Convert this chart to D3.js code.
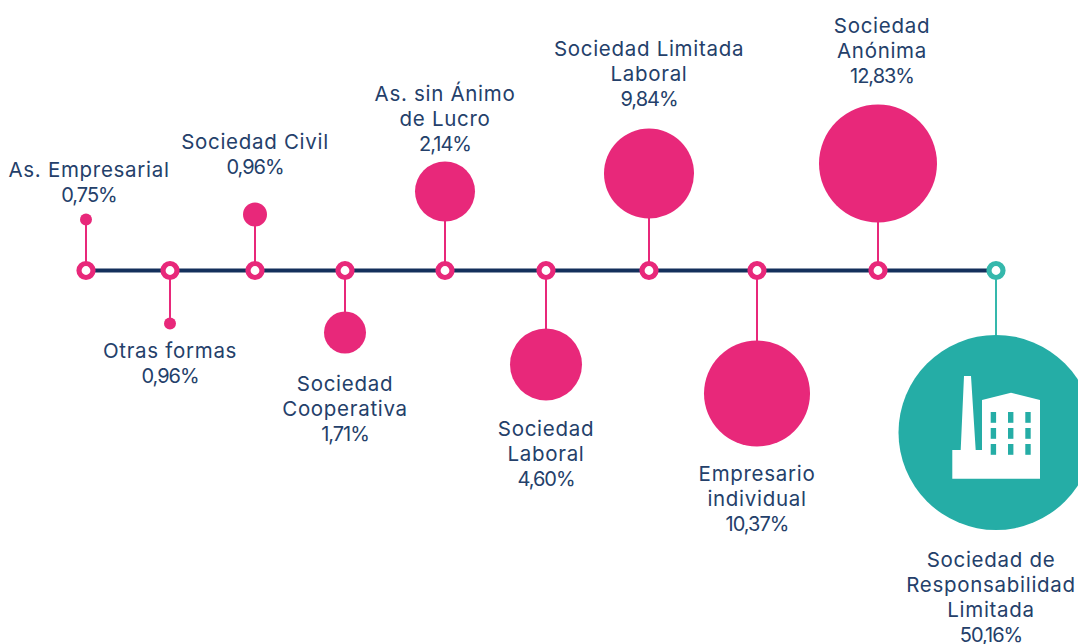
<!DOCTYPE html>
<html>
<head>
<meta charset="utf-8">
<script src="https://cdn.jsdelivr.net/npm/d3@7"></script>
<style>
html, body { margin: 0; padding: 0; background: #fff; overflow: hidden; }
text { font-family: "Inter", sans-serif; font-size: 20.5px; fill: #24406a; text-anchor: middle; letter-spacing: 0.7px; }
text .value { font-size: 20px; letter-spacing: -1px; }
</style>
</head>
<body>
<svg id="chart"></svg>
<script>
var width = 1078;
var height = 644;

var categories = ['As. Empresarial', 'Otras formas', 'Sociedad Civil', 'Sociedad Cooperativa', 'As. sin Ánimo de Lucro',
    'Sociedad Laboral', 'Sociedad Limitada Laboral', 'Empresario individual', 'Sociedad Anónima', 'Sociedad de Responsabilidad Limitada'];
var values = ['0,75%', '0,96%', '0,96%', '1,71%', '2,14%', '4,60%', '9,84%', '10,37%', '12,83%', '50,16%'];
var labelLines = [
    ['As. Empresarial'], ['Otras formas'], ['Sociedad Civil'], ['Sociedad', 'Cooperativa'], ['As. sin Ánimo', 'de Lucro'],
    ['Sociedad', 'Laboral'], ['Sociedad Limitada', 'Laboral'], ['Empresario', 'individual'], ['Sociedad', 'Anónima'],
    ['Sociedad de', 'Responsabilidad', 'Limitada']
];

var pink = '#e8287a';
var teal = '#25ada6';
var tealLight = '#35b8ac';
var navy = '#14305c';
var axisY = 270.5;

var x = d3.scaleOrdinal().domain(categories).range([86, 170, 255, 345, 445, 546, 649, 757, 878, 996]);
var r = d3.scaleOrdinal().domain(categories).range([6, 6, 12, 21, 30, 36, 45, 53, 59, 97.5]);
// offset of the bubble centre from the line, negative is above
var offset = d3.scaleOrdinal().domain(categories).range([-51, 53, -56, 62, -79, 94, -97, 123, -107, 162]);
// baseline of the first label line
var labelTop = d3.scaleOrdinal().domain(categories).range([177, 358, 149, 391, 101, 436, 56, 481, 33, 567]);
var labelX = d3.scaleOrdinal().domain(categories).range([89, 170, 255, 345, 445, 546, 649, 757, 882, 991]);

var color = function(d) { return d === categories[categories.length - 1] ? tealLight : pink; };

var svg = d3.select('#chart')
    .attr('width', width)
    .attr('height', height);

svg.append('line')
    .attr('x1', x(categories[0]))
    .attr('x2', x(categories[9]))
    .attr('y1', axisY)
    .attr('y2', axisY)
    .style('stroke', navy)
    .style('stroke-width', 4);

var item = svg.selectAll('g.item')
    .data(categories)
    .enter()
    .append('g')
    .attr('class', 'item');

item.append('line')
    .attr('x1', x)
    .attr('x2', x)
    .attr('y1', axisY)
    .attr('y2', function(d) { return axisY + offset(d); })
    .style('stroke', color)
    .style('stroke-width', 2);

item.append('circle')
    .attr('cx', x)
    .attr('cy', function(d) { return axisY + offset(d); })
    .attr('r', r)
    .style('fill', function(d) { return d === categories[9] ? teal : pink; });

item.append('circle')
    .attr('cx', x)
    .attr('cy', axisY)
    .attr('r', 7)
    .style('fill', '#fff')
    .style('stroke', color)
    .style('stroke-width', 5.2);

item.append('text')
    .attr('transform', function(d) { return 'translate(' + labelX(d) + ',' + labelTop(d) + ')'; })
    .selectAll('tspan')
    .data(function(d, i) { return labelLines[i].concat(values[i]); })
    .enter()
    .append('tspan')
    .attr('class', function(d) { return values.indexOf(d) >= 0 ? 'value' : null; })
    .attr('x', 0)
    .attr('y', function(d, i) { return i * 25; })
    .text(function(d) { return d; });

// factory icon inside the big bubble
var icon = svg.append('g')
    .attr('transform', 'translate(' + (x(categories[9]) - 116) + ',' + 320 + ')');
icon.append('path')
    .style('fill', '#fff')
    .attr('d', 'M72.3,130 L80.7,130 L84,56 L91,56 L95.7,130 L102,130 L102,80 L131,72.7 L160,80 L160,158.7 L72.3,158.7 Z');
icon.selectAll('rect')
    .data(d3.cross([110.7, 128, 145.3], [92, 108, 124]))
    .enter()
    .append('rect')
    .attr('x', function(d) { return d[0]; })
    .attr('y', function(d) { return d[1]; })
    .attr('width', 5.4)
    .attr('height', 10.8)
    .style('fill', teal);
</script>
</body>
</html>
